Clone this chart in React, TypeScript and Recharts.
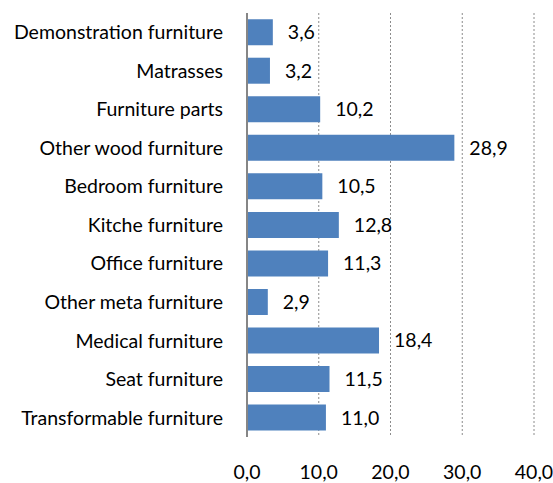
import { BarChart, Bar, XAxis, YAxis, CartesianGrid, LabelList } from 'recharts'

const categories = [
  'Demonstration furniture',
  'Matrasses',
  'Furniture parts',
  'Other wood furniture',
  'Bedroom furniture',
  'Kitche furniture',
  'Office furniture',
  'Other meta furniture',
  'Medical furniture',
  'Seat furniture',
  'Transformable furniture',
]
const values = [3.6, 3.2, 10.2, 28.9, 10.5, 12.8, 11.3, 2.9, 18.4, 11.5, 11.0]
const xTicks = [0, 10, 20, 30, 40]

const data = categories.map((name, i) => ({ name, value: values[i] }))

const fmt = (v: number) => v.toFixed(1).replace('.', ',')
const FONT = 'Lato, sans-serif'
const textStyle = { fontSize: 19.5, fill: '#000', fontFamily: FONT, fontVariantLigatures: 'none' }

export default function App() {
  return (
    <div style={{ position: 'absolute', left: 0, top: 0, background: '#fff', fontFamily: FONT }}>
      <BarChart width={553} height={483} data={data} layout="vertical"
        margin={{ top: 13, right: 19, bottom: 0, left: 0 }} barCategoryGap="16%">
        <CartesianGrid horizontal={false} stroke="#8c8c8c" strokeDasharray="2 2" />
        <XAxis type="number" domain={[0, 40]} ticks={xTicks} tickFormatter={fmt}
          axisLine={false} tickLine={false} tickSize={0} tickMargin={28} height={46}
          tick={textStyle} interval={0} />
        <YAxis type="category" dataKey="name" width={247} tickLine={false} tickSize={0} tickMargin={24}
          axisLine={{ stroke: '#868686', strokeWidth: 2 }}
          tick={textStyle} interval={0} />
        <Bar dataKey="value" fill="#4f81bd" isAnimationActive={false}>
          <LabelList dataKey="value" position="right" offset={15} formatter={(v: any) => fmt(Number(v))}
            style={textStyle} />
        </Bar>
      </BarChart>
    </div>
  )
}
